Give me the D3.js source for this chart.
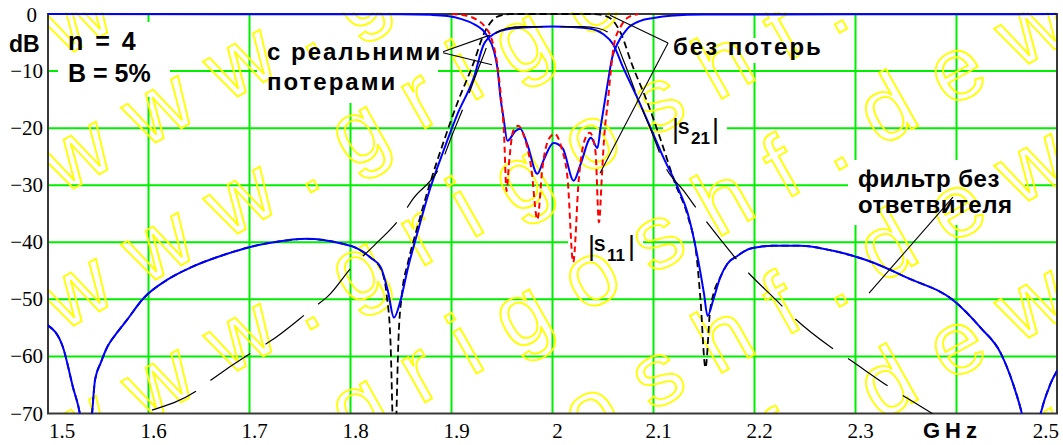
<!DOCTYPE html>
<html><head><meta charset="utf-8">
<script src="https://cdn.jsdelivr.net/npm/d3@7/dist/d3.min.js"></script>
<style>body{margin:0;background:#fff}svg{display:block}</style>
</head><body>
<svg id="c" width="1063" height="445"></svg>
<script>
// ---------- data ----------
const freqTicks = [1.5,1.6,1.7,1.8,1.9,2.0,2.1,2.2,2.3,2.4,2.5];
const freqTickLabels = ["1.5","1.6","1.7","1.8","1.9","2","2.1","2.2","2.3","GHz","2.5"];
const dbTicks = [0,-10,-20,-30,-40,-50,-60,-70];
const dbTickLabels = ["0","\u221210","\u221220","\u221230","\u221240","\u221250","\u221260","\u221270"];

// |S21| with real losses (blue)
const s21Lossy = [[1.500,-54.5],[1.5153,-58.4],[1.5252,-65.4],[1.5322,-70.2],[1.538,-78],[1.544,-70.2],[1.547,-64.2],[1.553,-61],[1.559,-58.4],[1.569,-55.8],[1.5787,-53.6],[1.5946,-49.9],[1.6183,-46.6],[1.642,-44.4],[1.678,-42],[1.699,-40.9],[1.724,-40],[1.757,-39.4],[1.773,-39.6],[1.793,-40.3],[1.807,-41.1],[1.820,-42.7],[1.830,-44.4],[1.837,-48.5],[1.843,-53.2],[1.8495,-50.2],[1.857,-44.4],[1.866,-38.5],[1.879,-30.5],[1.892,-24],[1.906,-17.5],[1.922,-11.2],[1.932,-5.3],[1.942,-3.5],[1.958,-2.6],[1.98,-2.3],[2.0,-2.2],[2.02,-2.3],[2.035,-2.5],[2.05,-3.5],[2.06,-5.3],[2.07,-9.4],[2.084,-14.7],[2.097,-19.9],[2.11,-25.2],[2.124,-30.4],[2.134,-35],[2.143,-42],[2.15,-49],[2.1535,-52.9],[2.159,-50.2],[2.166,-46.2],[2.173,-43.8],[2.183,-42.4],[2.196,-41.1],[2.219,-40.6],[2.245,-40.6],[2.278,-41.5],[2.312,-43.2],[2.351,-46.2],[2.397,-50.2],[2.424,-55],[2.444,-59.5],[2.456,-64.8],[2.465,-70.2],[2.474,-78],[2.483,-70.2],[2.493,-64.8],[2.5,-62.4]];

// |S11| with real losses (blue)
const s11Lossy = [[1.5,-0.02],[1.85,-0.05],[1.88,-0.15],[1.896,-0.35],[1.91,-0.9],[1.922,-1.75],[1.934,-3.5],[1.942,-6.5],[1.9455,-9.5],[1.9485,-14.7],[1.9515,-18.2],[1.9554,-22.2],[1.9634,-20.5],[1.968,-20.1],[1.975,-22.8],[1.985,-28],[1.991,-25.7],[2.001,-22.6],[2.010,-23.5],[2.021,-29.2],[2.028,-26.2],[2.038,-21.7],[2.0445,-23.5],[2.0475,-20],[2.0545,-12.3],[2.059,-7.7],[2.064,-5.3],[2.074,-2.6],[2.087,-1.2],[2.100,-0.7],[2.117,-0.3],[2.15,-0.1],[2.5,-0.02]];

// |S11| lossless (red dashed)
const s11Lossless = [[1.90,0],[1.915,-0.3],[1.925,-1.0],[1.933,-2.2],[1.94,-4.5],[1.945,-8.5],[1.949,-14.5],[1.952,-21],[1.9545,-31],[1.957,-26],[1.961,-20.5],[1.966,-19.6],[1.972,-21.5],[1.979,-27],[1.985,-36],[1.99,-27],[1.996,-22],[2.002,-21],[2.009,-23.5],[2.015,-29],[2.0205,-43.5],[2.026,-29],[2.032,-22],[2.037,-20.8],[2.0425,-24],[2.046,-36.5],[2.049,-28],[2.051,-22],[2.055,-15],[2.058,-9.5],[2.061,-5.3],[2.067,-2.4],[2.074,-0.7],[2.085,0]];

// |S21| lossless (black dashed)
const s21Lossless = [[1.500,-54.5],[1.5153,-58.4],[1.5252,-65.4],[1.5322,-70.2],[1.538,-78],[1.544,-70.2],[1.547,-64.2],[1.553,-61],[1.559,-58.4],[1.569,-55.8],[1.5787,-53.6],[1.5946,-49.9],[1.6183,-46.6],[1.642,-44.4],[1.678,-42],[1.699,-40.9],[1.724,-40],[1.757,-39.4],[1.773,-39.6],[1.793,-40.3],[1.807,-41.1],[1.820,-42.7],[1.830,-44.6],[1.836,-49.5],[1.8395,-57],[1.8415,-70],[1.8435,-85],[1.8455,-70],[1.8475,-57],[1.851,-49],[1.857,-43.5],[1.866,-37.5],[1.879,-29.5],[1.892,-22.5],[1.906,-15.5],[1.922,-8.5],[1.932,-3.5],[1.94,-1.2],[1.95,-0.2],[1.96,0],[2.04,0],[2.05,-0.2],[2.06,-1.2],[2.068,-3.5],[2.078,-8.5],[2.094,-15.5],[2.108,-22.5],[2.121,-29.5],[2.134,-35.5],[2.143,-43],[2.1465,-50],[2.1515,-62],[2.156,-52],[2.1594,-49],[2.166,-46.2],[2.173,-43.8],[2.183,-42.4],[2.196,-41.1],[2.219,-40.6],[2.245,-40.6],[2.278,-41.5],[2.312,-43.2],[2.351,-46.2],[2.397,-50.2],[2.424,-55],[2.444,-59.5],[2.456,-64.8],[2.465,-70.2],[2.474,-78],[2.483,-70.2],[2.493,-64.8],[2.5,-62.4]];

// filter without coupler (black long dash)
const noCoupler = [[1.6035,-69.4],[1.648,-66],[1.663,-64],[1.705,-59],[1.72,-57.4],[1.763,-51.5],[1.778,-49.4],[1.802,-44.2],[1.822,-40.8],[1.851,-35.3],[1.861,-32.6],[1.889,-26.5],[1.90,-21.5],[1.915,-15],[1.93,-8],[1.94,-4],[1.955,-2.5],[1.97,-2.2],[2.0,-2.2],[2.03,-2.2],[2.045,-2.5],[2.06,-4],[2.07,-8],[2.085,-15],[2.10,-21.5],[2.111,-26.5],[2.13,-31],[2.149,-35.6],[2.179,-42.3],[2.188,-44.2],[2.223,-50.4],[2.233,-52.2],[2.275,-58.3],[2.292,-60.3],[2.334,-65.4],[2.351,-67.3],[2.374,-69.8],[2.39,-71.5]];

// annotation leader lines in data units: [from, to]
const leaders = [
  [[1.8916,-6.6],[1.938,-3.7]],
  [[1.8916,-6.8],[1.940,-8.9]],
  [[2.1144,-5.1],[2.0569,-0.2]],
  [[2.1144,-5.1],[2.047,-27.9]],
  [[2.3965,-32.1],[2.3134,-48.9]]
];
const watermarkText = "www.grigoshf.de";

// ---------- drawing ----------
const svg = d3.select("#c");
const x = d3.scaleLinear().domain([1.5,2.5]).range([47.5,1057.5]);
const y = d3.scaleLinear().domain([-70,0]).range([413.5,14]);
const L=48, R=1057, T=14, B=413.5;

const defs = svg.append("defs");
defs.append("clipPath").attr("id","plot").append("rect")
  .attr("x",L).attr("y",T-2).attr("width",R-L).attr("height",B-T+2);

// grid
const grid = svg.append("g").attr("stroke","#00ee00").attr("stroke-width",2);
grid.selectAll(".vg").data(freqTicks.slice(1,-1)).join("line")
  .attr("x1",d=>x(d)).attr("x2",d=>x(d)).attr("y1",T).attr("y2",B);
grid.selectAll(".hg").data(dbTicks.slice(1,-1)).join("line")
  .attr("y1",d=>y(d)).attr("y2",d=>y(d)).attr("x1",L).attr("x2",R);

// white text boxes (hide grid behind annotations)
const boxes = [[58,22,170,97],[257,14,438,103],[668,38,822,63],[663,108,727,150],[848,160,1025,225],[568,222,643,265]];
svg.append("g").selectAll("rect").data(boxes).join("rect")
  .attr("x",d=>d[0]).attr("y",d=>d[1]).attr("width",d=>d[2]-d[0]).attr("height",d=>d[3]-d[1])
  .attr("fill","#fff");

// watermark (diagonal rows, clipped to the plot)
const ang = -29.3;
const wmSize = 90, wmSpace = 29;
const wm = svg.append("g").attr("clip-path","url(#plot)");
const rows = d3.range(-3,6);
wm.selectAll("text").data(rows).join("text")
  .attr("transform",k=>`translate(-893,${868+k*137}) rotate(${ang})`)
  .attr("font-family","Liberation Sans, Arial, sans-serif")
  .attr("font-size",wmSize)
  .style("letter-spacing",wmSpace+"px")
  .attr("fill","none").attr("stroke","#ffff00").attr("stroke-width",1.8)
  .text(watermarkText.repeat(4));

// frame
svg.append("rect").attr("x",L).attr("y",T).attr("width",R-L).attr("height",B-T)
  .attr("fill","none").attr("stroke","#383838").attr("stroke-width",2);

// curves
const line = d3.line().x(d=>x(d[0])).y(d=>y(d[1])).curve(d3.curveMonotoneX);
const curves = svg.append("g").attr("clip-path","url(#plot)").attr("fill","none");
curves.append("path").datum(s21Lossless).attr("d",line)
  .attr("stroke","#000").attr("stroke-width",1.8).attr("stroke-dasharray","7,4");
curves.append("path").datum(s21Lossy).attr("d",line)
  .attr("stroke","#0000ff").attr("stroke-width",2);
curves.append("path").datum(s11Lossy).attr("d",line)
  .attr("stroke","#0000ff").attr("stroke-width",2);
curves.append("path").datum(s11Lossless).attr("d",line)
  .attr("stroke","#ff0000").attr("stroke-width",2).attr("stroke-dasharray","6,4");
curves.append("path").datum(noCoupler).attr("d",line)
  .attr("stroke","#000").attr("stroke-width",1.2).attr("stroke-dasharray","48,18");

// leader lines
svg.append("g").attr("stroke","#000").attr("stroke-width",1.1)
  .selectAll("line").data(leaders).join("line")
  .attr("x1",d=>x(d[0][0])).attr("y1",d=>y(d[0][1]))
  .attr("x2",d=>x(d[1][0])).attr("y2",d=>y(d[1][1]));

// y tick labels
const serif = "Liberation Serif, Times New Roman, serif";
const sans = "Liberation Sans, Arial, sans-serif";
svg.append("g").selectAll("text").data(dbTicks).join("text")
  .attr("x",(d,i)=> i===0 ? 37 : 43)
  .attr("y",(d,i)=> i===0 ? y(d)+8 : y(d)+7)
  .attr("text-anchor","end").attr("font-family",serif).attr("font-size",21)
  .attr("fill","#000").text((d,i)=>dbTickLabels[i]);

// x tick labels
svg.append("g").selectAll("text").data(freqTicks).join("text")
  .attr("x",(d,i)=> i===0 ? 49 : i===freqTicks.length-1 ? 1059 : freqTickLabels[i]==="GHz" ? 923 : x(d)+5)
  .attr("y",438)
  .attr("text-anchor",(d,i)=> i===0 ? "start" : i===freqTicks.length-1 ? "end" : freqTickLabels[i]==="GHz" ? "start" : "middle")
  .attr("font-family",(d,i)=> freqTickLabels[i]==="GHz" ? sans : serif)
  .attr("font-weight",(d,i)=> freqTickLabels[i]==="GHz" ? "bold" : "normal")
  .attr("font-size",(d,i)=> freqTickLabels[i]==="GHz" ? 22 : 21)
  .style("letter-spacing",(d,i)=> freqTickLabels[i]==="GHz" ? "5px" : "0px")
  .attr("fill","#000").text((d,i)=>freqTickLabels[i]);

// unit label
svg.append("text").attr("x",9).attr("y",52).attr("font-family",sans).attr("font-weight","bold")
  .attr("font-size",23).text("dB");

// annotations
const ann = [
  {t:"n = 4", x:68, y:50, fs:25, ls:2.5},
  {t:"B = 5%", x:68, y:82, fs:25, ls:0},
  {t:"с реальними", x:267, y:60, fs:24, ls:2},
  {t:"потерами", x:267, y:90, fs:24, ls:2},
  {t:"без потерь", x:673, y:55, fs:24, ls:2},
  {t:"фильтр без", x:858, y:187, fs:24, ls:0.5},
  {t:"ответвителя", x:858, y:213, fs:24, ls:0.5}
];
svg.append("g").selectAll("text").data(ann).join("text")
  .attr("x",d=>d.x).attr("y",d=>d.y).attr("font-family",sans).attr("font-weight","bold")
  .attr("font-size",d=>d.fs).style("letter-spacing",d=>d.ls+"px").attr("fill","#000")
  .text(d=>d.t);

// |S21| and |S11| labels
function sLabel(x0, yb, sub){
  const g = svg.append("g").attr("font-family",sans).attr("fill","#000");
  g.append("text").attr("x",x0-4).attr("y",yb-5.5).attr("font-size",27).text("|");
  g.append("text").attr("x",x0+2).attr("y",yb-9.5).attr("font-size",17).attr("font-weight","bold").text("S");
  g.append("text").attr("x",x0+15).attr("y",yb).attr("font-size",17).attr("font-weight","bold").text(sub);
  g.append("text").attr("x",x0+36).attr("y",yb-5.5).attr("font-size",27).text("|");
}
sLabel(676, 143.5, "21");
sLabel(592, 260.5, "11");
</script>
</body></html>
